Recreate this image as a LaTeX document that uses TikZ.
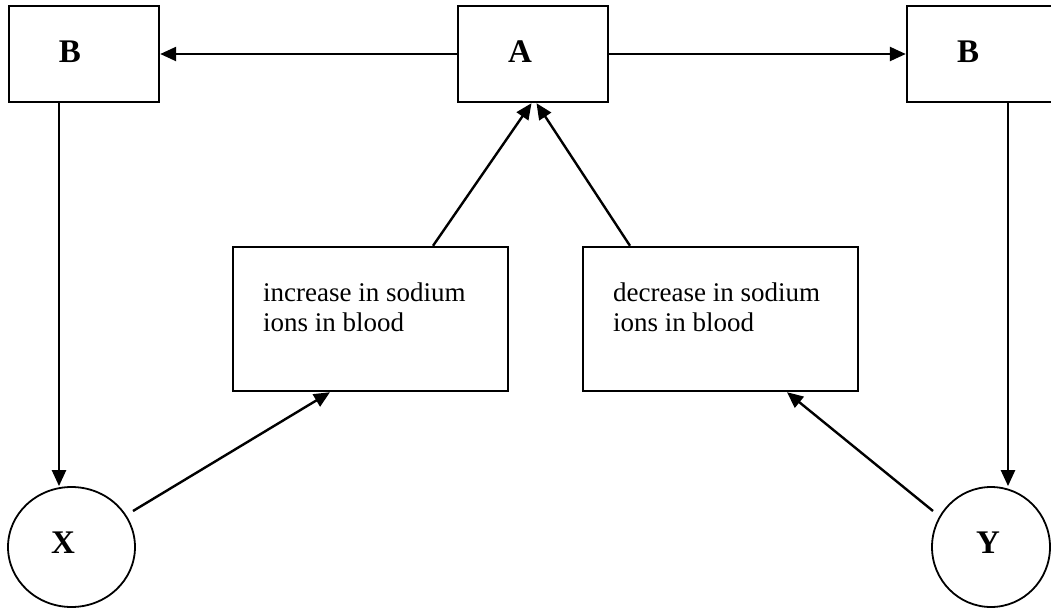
\documentclass[tikz,border=0pt]{standalone}
\usepackage{fontspec}
\setmainfont{Liberation Serif}
\usetikzlibrary{arrows.meta,calc,shapes.geometric}
\begin{document}
\begin{tikzpicture}[x=1pt,y=-1pt,
  box/.style={draw,line width=2.4pt,minimum width=150pt,minimum height=96pt,inner sep=0pt},
  sbox/.style={draw,line width=2.4pt,minimum width=275pt,minimum height=144pt,inner sep=0pt},
  circ/.style={draw,ellipse,line width=1.8pt,minimum height=120pt,inner sep=0pt},
  letter/.style={font=\fontsize{33}{36}\selectfont\bfseries,anchor=base,inner sep=0pt},
  body/.style={font=\fontsize{27}{30}\selectfont,align=left,anchor=north west,inner sep=0pt},
  arr/.style={line width=2.4pt,-{Triangle[length=16pt,width=14pt]}}]
\clip (0,0) rectangle (1051,608);
\fill[white] (0,0) rectangle (1051,608);
% boxes
\node[box] (B1) at (84,54) {};
\node[box] (A) at (533,54) {};
\node[box] (B2) at (982,54) {};
\node[sbox] (inc) at (370.5,319) {};
\node[sbox] (dec) at (720.5,319) {};
\node[circ,minimum width=127pt] (X) at (71.5,547) {};
\node[circ,minimum width=118pt] (Y) at (991,547) {};
% labels
\node[letter] (tB1) at (70,62) {B};
\node[letter] (tA) at (520,62) {A};
\node[letter] (tB2) at (968,62) {B};
\node[letter] (tX) at (63,553) {X};
\node[letter] (tY) at (988,553) {Y};
\node[body] (tinc) at (263,283) {increase in sodium\\ions in blood};
\node[body] (tdec) at (613,283) {decrease in sodium\\ions in blood};
% connectors
\draw[arr] (A.west) -- (B1.east);
\draw[arr] (A.east) -- (B2.west);
\draw[arr] ([xshift=-25pt]B1.south) -- ([xshift=-25pt]B1.south |- X.north);
\draw[arr] ([xshift=26pt]B2.south) -- ([xshift=26pt]B2.south |- Y.north);
\coordinate (xs) at ($(X.center)+(61.5,-36)$);
\coordinate (ys) at ($(Y.center)+(-58,-36)$);
\draw[arr] (xs) -- ([xshift=-40.5pt]inc.south);
\draw[arr] (ys) -- ([xshift=66.5pt]dec.south);
\draw[arr] ([xshift=62.5pt]inc.north) -- ([xshift=-1.5pt]A.south);
\draw[arr] ([xshift=-90.5pt]dec.north) -- ([xshift=3.5pt]A.south);
\end{tikzpicture}
\end{document}
